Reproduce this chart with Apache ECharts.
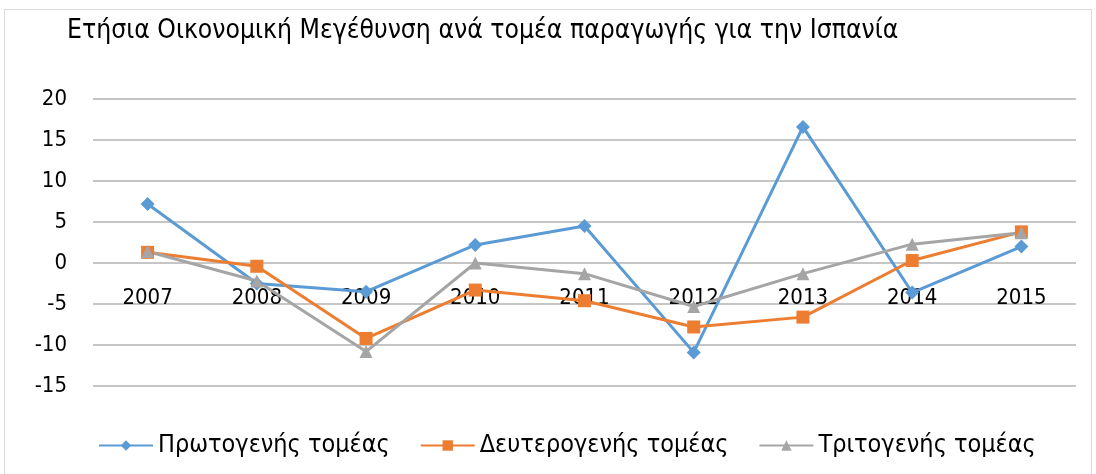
<!DOCTYPE html>
<html>
<head>
<meta charset="utf-8">
<script src="https://cdn.jsdelivr.net/npm/echarts@6/dist/echarts.min.js"></script>
<style>
  body { margin: 0; background: #fff; }
  #chart { width: 1096px; height: 474px; }
</style>
</head>
<body>
<div id="chart"></div>
<script>
// Annual growth per production sector, Spain
const years = ['2007', '2008', '2009', '2010', '2011', '2012', '2013', '2014', '2015'];
const primary = [7.2, -2.5, -3.5, 2.2, 4.5, -10.9, 16.6, -3.6, 2.0];
const secondary = [1.3, -0.4, -9.2, -3.3, -4.6, -7.8, -6.6, 0.3, 3.8];
const tertiary = [1.4, -2.2, -10.8, 0.0, -1.3, -5.3, -1.3, 2.3, 3.7];
const seriesNames = ['Πρωτογενής τομέας', 'Δευτερογενής τομέας', 'Τριτογενής τομέας'];

const font = '"DejaVu Sans Condensed", "Liberation Sans", sans-serif';

const chart = echarts.init(document.getElementById('chart'));
chart.setOption({
  animation: false,
  textStyle: { fontFamily: font },
  graphic: [{
    type: 'rect',
    shape: { x: 4.5, y: 9.5, width: 1087, height: 470 },
    style: { fill: 'none', stroke: '#d9d9d9', lineWidth: 1 }
  }],
  title: {
    text: 'Ετήσια Οικονομική Μεγέθυνση ανά τομέα παραγωγής για την Ισπανία',
    left: 62,
    top: 13,
    textStyle: { fontFamily: font, fontSize: 26.3, fontWeight: 'normal', color: '#000' }
  },
  legend: {
    top: 428,
    left: 93,
    itemWidth: 54,
    itemHeight: 13,
    itemGap: 30,
    textStyle: { fontFamily: font, fontSize: 25, color: '#000' },
    data: seriesNames
  },
  grid: { left: 93, right: 20, top: 99, bottom: 88 },
  xAxis: {
    type: 'category',
    data: years,
    axisLine: { show: false, onZero: false },
    axisTick: { show: false },
    // labels sit just under the zero line, as in the source chart
    axisLabel: { margin: -99, fontSize: 22, color: '#000', fontFamily: font }
  },
  yAxis: {
    type: 'value',
    min: -15,
    max: 20,
    interval: 5,
    axisLine: { show: false },
    axisTick: { show: false },
    axisLabel: { margin: 26, fontSize: 22, color: '#000', fontFamily: font },
    splitLine: { lineStyle: { color: '#b3b3b3', width: 1.5 } }
  },
  series: [
    {
      name: seriesNames[0], type: 'line', data: primary,
      symbol: 'diamond', symbolSize: 14,
      itemStyle: { color: '#5b9bd5' },
      lineStyle: { width: 3, color: '#5b9bd5' }
    },
    {
      name: seriesNames[1], type: 'line', data: secondary,
      symbol: 'rect', symbolSize: 13,
      itemStyle: { color: '#ed7d31' },
      lineStyle: { width: 3, color: '#ed7d31' }
    },
    {
      name: seriesNames[2], type: 'line', data: tertiary,
      symbol: 'triangle', symbolSize: 13,
      itemStyle: { color: '#a5a5a5' },
      lineStyle: { width: 3, color: '#a5a5a5' }
    }
  ]
});
</script>
</body>
</html>
